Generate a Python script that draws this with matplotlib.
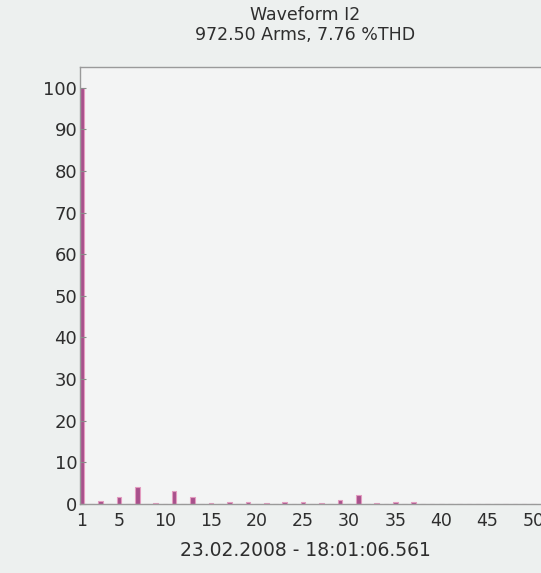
import numpy as np
import matplotlib.pyplot as plt

# harmonic spectrum of I2, percent of fundamental
harmonics = np.arange(1, 51)
amplitudes = [100.0, 0.1, 0.7, 0.1, 1.7, 0.1, 4.1, 0.1, 0.3, 0.1,
              3.1, 0.1, 1.7, 0.1, 0.3, 0.1, 0.6, 0.1, 0.6, 0.1,
              0.2, 0.1, 0.4, 0.1, 0.4, 0.1, 0.2, 0.1, 1.0, 0.1,
              2.2, 0.1, 0.2, 0.1, 0.5, 0.1, 0.5, 0.1, 0.1, 0.1,
              0.1, 0.1, 0.1, 0.1, 0.1, 0.1, 0.1, 0.1, 0.1, 0.1]
xticks = [1, 5, 10, 15, 20, 25, 30, 35, 40, 45, 50]
yticks = [0, 10, 20, 30, 40, 50, 60, 70, 80, 90, 100]

title = "Waveform I2\n972.50 Arms, 7.76 %THD"
timestamp = "23.02.2008 - 18:01:06.561"

plt.rcParams['font.family'] = ['DejaVu Sans']

fig = plt.figure(figsize=(5.41, 5.73), dpi=100)
fig.patch.set_facecolor('#edf0ef')
ax = fig.add_axes([0.148, 0.1204, 0.86, 0.763])
ax.set_facecolor('#f3f4f4')

ax.bar(harmonics, amplitudes, width=0.5, color='#a8508c',
       edgecolor='#e39cc0', linewidth=0.8)

ax.set_xlim(0.78, 51.3)
ax.set_ylim(0, 105)
ax.set_xticks(xticks)
ax.set_yticks(yticks)
ax.tick_params(axis='y', direction='in', length=4, color='#8a8a8a',
               labelsize=13, labelcolor='#2e2e2e', pad=2)
ax.tick_params(axis='x', length=0, labelsize=12.5, labelcolor='#2e2e2e', pad=6)

for side in ['left', 'top', 'bottom']:
    ax.spines[side].set_color('#9a9a9a')
    ax.spines[side].set_linewidth(1.0)
ax.spines['right'].set_visible(False)

fig.text(0.564, 0.99, title, ha='center', va='top', fontsize=12.5,
         color='#2e2e2e', linespacing=1.15)
fig.text(0.564, 0.04, timestamp, ha='center', va='center', fontsize=13.5,
         color='#2e2e2e')

fig.savefig('out.png', dpi=100, facecolor=fig.get_facecolor())
